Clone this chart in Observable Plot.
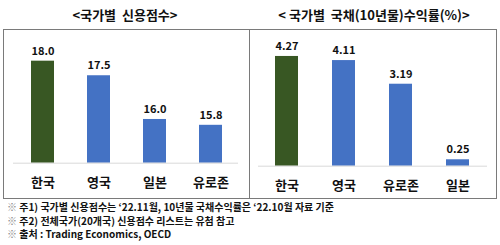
<!DOCTYPE html>
<html>
<head>
<meta charset="utf-8">
<script src="https://cdn.jsdelivr.net/npm/d3@7"></script>
<script src="https://cdn.jsdelivr.net/npm/@observablehq/plot@0.6"></script>
<style>
  html, body { margin: 0; padding: 0; background: #fff; }
  #wrap { position: relative; width: 500px; height: 245px; overflow: hidden;
          font-family: "Noto Sans CJK KR", "Noto Sans", sans-serif; color: #111; }
  .title { position: absolute; top: 5px; width: 250px; text-align: center;
           font-size: 13px; font-weight: bold; line-height: 20px; white-space: pre; }
  .panel { position: absolute; top: 28px; }
  .note { position: absolute; left: 7px; font-size: 10px; font-weight: bold; line-height: 11px; height: 11px; white-space: nowrap; }
  .note .mark { color: #8a8a8a; font-weight: normal; }
</style>
</head>
<body>
<div id="wrap">
  <div class="title" style="left:0px">&lt;국가별  신용점수&gt;</div>
  <div class="title" style="left:249px">&lt; 국가별  국채(10년물)수익률(%)&gt;</div>
  <div class="panel" id="left" style="left:0px"></div>
  <div class="panel" id="right" style="left:249px"></div>
  <div class="note" style="top:201px"><span class="mark">※</span> 주1) 국가별 신용점수는 ‘22.11월, 10년물 국채수익률은 ‘22.10월 자료 기준</div>
  <div class="note" style="top:214.5px"><span class="mark">※</span> 주2) 전체국가(20개국) 신용점수 리스트는 유첨 참고</div>
  <div class="note" style="top:228px"><span class="mark">※</span> 출처 : Trading Economics, OECD</div>
</div>
<script>
// ---- data ----
const scoreCountries = ["한국", "영국", "일본", "유로존"];
const scoreValues = [18.0, 17.5, 16.0, 15.8];
const scoreLabels = ["18.0", "17.5", "16.0", "15.8"];
const scoreAxisMin = 14.5;
const scoreAxisMax = 18.5;

const yieldCountries = ["한국", "영국", "유로존", "일본"];
const yieldValues = [4.27, 4.11, 3.19, 0.25];
const yieldLabels = ["4.27", "4.11", "3.19", "0.25"];
const yieldAxisMin = 0;
const yieldAxisMax = 5;

const highlight = "한국";
const GREEN = "#385723";
const BLUE = "#4472C4";

const font = '"Noto Sans CJK KR", "Noto Sans", sans-serif';

function panel({countries, values, labels, ymin, ymax, xRange, yRange, marginLeft, marginRight, baseInsetLeft, baseInsetRight}) {
  const data = countries.map((c, i) => ({country: c, value: values[i], label: labels[i]}));
  return Plot.plot({
    width: 250,
    height: 172,
    marginTop: 1,
    marginBottom: 2,
    marginLeft,
    marginRight,
    style: {fontFamily: font, background: "transparent", overflow: "visible"},
    x: {type: "band", domain: countries, range: xRange, paddingInner: 0.59, paddingOuter: 0.295, axis: null},
    y: {domain: [ymin, ymax], range: yRange, axis: null},
    marks: [
      Plot.frame({stroke: "#7a7a7a", strokeWidth: 1}),
      Plot.barY(data, {
        x: "country",
        y1: ymin,
        y2: "value",
        fill: d => d.country === highlight ? GREEN : BLUE
      }),
      Plot.ruleY([ymin], {stroke: "#d9d9d9", strokeWidth: 1, insetLeft: baseInsetLeft, insetRight: baseInsetRight}),
      Plot.text(data, {
        x: "country", y: "value", text: "label", dy: -10,
        fontSize: 11, fontWeight: "bold", fill: "#111"
      }),
      Plot.text(data, {
        x: "country", y: ymin, text: "country", dy: 20,
        fontSize: 13, fontWeight: "bold", fill: "#111"
      })
    ]
  });
}

document.getElementById("left").append(panel({
  countries: scoreCountries, values: scoreValues, labels: scoreLabels,
  ymin: scoreAxisMin, ymax: scoreAxisMax,
  xRange: [14, 238], yRange: [134.7, 18.1],
  marginLeft: 3, marginRight: 1, baseInsetLeft: 10, baseInsetRight: 11
}));

document.getElementById("right").append(panel({
  countries: yieldCountries, values: yieldValues, labels: yieldLabels,
  ymin: yieldAxisMin, ymax: yieldAxisMax,
  xRange: [9, 238.3], yRange: [137.7, 9.2],
  marginLeft: 0, marginRight: 3, baseInsetLeft: 9, baseInsetRight: 9
}));
</script>
</body>
</html>
